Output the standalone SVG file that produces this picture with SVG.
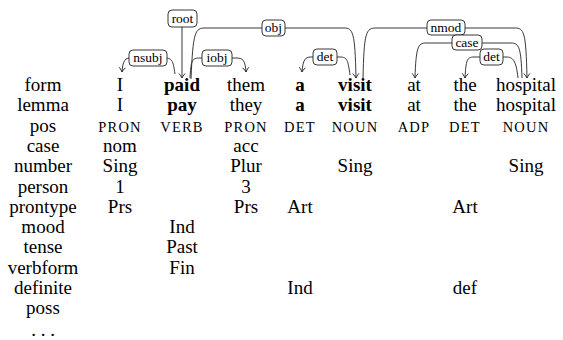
<svg xmlns="http://www.w3.org/2000/svg" width="563" height="340" viewBox="0 0 563 340">
<style>
text{font-family:"Liberation Serif","Times New Roman",serif;fill:#000}
.t{font-size:19px;text-anchor:middle}
.b{font-weight:bold}
.sc{font-size:14.5px;letter-spacing:1.2px;text-anchor:middle}
.lb{font-size:13.5px;text-anchor:middle}
.box{fill:#fff;stroke:#222;stroke-width:0.9}
.arc{fill:none;stroke:#222;stroke-width:0.9;marker-end:url(#ah)}
</style>
<defs>
<marker id="ah" viewBox="-6 -5 7 10" markerWidth="7" markerHeight="10" refX="0" refY="0" orient="auto" markerUnits="userSpaceOnUse">
<path d="M-4.5,-3 Q-1.5,-0.6 0,0 Q-1.5,0.6 -4.5,3" fill="none" stroke="#222" stroke-width="0.9"/>
</marker>
</defs>
<g id="connectors">
<path class="arc" d="M182,27 L182,78"/>
<path class="arc" d="M175,74 C173,60 172,58 164,58 L131,58 C125,58 123,60 122,72"/>
<path class="arc" d="M190,78 C191,60 192,58 200,58 L236,58 C243,58 245,60 246,72"/>
<path class="arc" d="M191,79 C193,32 195,28 205,28 L344,28 C353,28 355,32 356,78"/>
<path class="arc" d="M350,75 C348,60 347,57 340,57 L311,57 C305,57 303,60 302,72"/>
<path class="arc" d="M363,79 C364,32 366,28 376,28 L515,28 C524,28 526,32 527,78"/>
<path class="arc" d="M522,78 C521,47 519,43 511,43 L426,43 C418,43 416,47 415,78"/>
<path class="arc" d="M518,78 C516,60 513,57 506,57 L474,57 C467,57 466,60 465,78"/>
</g>
<g id="root"><rect class="box" x="168" y="10" width="29" height="17" rx="4"/><text class="lb" x="182.5" y="23">root</text></g>
<g id="nsubj"><rect class="box" x="129" y="50" width="38" height="16" rx="4"/><text class="lb" x="148" y="62">nsubj</text></g>
<g id="iobj"><rect class="box" x="202" y="50" width="30" height="16" rx="4"/><text class="lb" x="217" y="62">iobj</text></g>
<g id="obj"><rect class="box" x="262" y="20" width="23" height="16" rx="4"/><text class="lb" x="273.5" y="32">obj</text></g>
<g id="det1"><rect class="box" x="313" y="49" width="24" height="16" rx="4"/><text class="lb" x="325" y="61">det</text></g>
<g id="nmod"><rect class="box" x="427" y="20" width="38" height="15" rx="4"/><text class="lb" x="446" y="32">nmod</text></g>
<g id="case"><rect class="box" x="452" y="35" width="30" height="15" rx="4"/><text class="lb" x="467" y="47">case</text></g>
<g id="det2"><rect class="box" x="480" y="49" width="23" height="16" rx="4"/><text class="lb" x="491.5" y="61">det</text></g>
<g id="table">
<text class="t" x="43" y="91">form</text>
<text class="t" x="120" y="91">I</text>
<text class="t b" x="182" y="91">paid</text>
<text class="t" x="246" y="91">them</text>
<text class="t b" x="300" y="91">a</text>
<text class="t b" x="355" y="91">visit</text>
<text class="t" x="414" y="91">at</text>
<text class="t" x="465" y="91">the</text>
<text class="t" x="526" y="91">hospital</text>

<text class="t" x="43" y="111.3">lemma</text>
<text class="t" x="120" y="111.3">I</text>
<text class="t b" x="182" y="111.3">pay</text>
<text class="t" x="246" y="111.3">they</text>
<text class="t b" x="300" y="111.3">a</text>
<text class="t b" x="355" y="111.3">visit</text>
<text class="t" x="414" y="111.3">at</text>
<text class="t" x="465" y="111.3">the</text>
<text class="t" x="526" y="111.3">hospital</text>

<text class="t" x="43" y="131.6">pos</text>
<text class="sc" x="120" y="131.6">PRON</text>
<text class="sc" x="182" y="131.6">VERB</text>
<text class="sc" x="246" y="131.6">PRON</text>
<text class="sc" x="300" y="131.6">DET</text>
<text class="sc" x="355" y="131.6">NOUN</text>
<text class="sc" x="414" y="131.6">ADP</text>
<text class="sc" x="465" y="131.6">DET</text>
<text class="sc" x="526" y="131.6">NOUN</text>

<text class="t" x="43" y="151.9">case</text>
<text class="t" x="120" y="151.9">nom</text>
<text class="t" x="246" y="151.9">acc</text>

<text class="t" x="43" y="172.2">number</text>
<text class="t" x="120" y="172.2">Sing</text>
<text class="t" x="246" y="172.2">Plur</text>
<text class="t" x="355" y="172.2">Sing</text>
<text class="t" x="526" y="172.2">Sing</text>

<text class="t" x="43" y="192.5">person</text>
<text class="t" x="120" y="192.5">1</text>
<text class="t" x="246" y="192.5">3</text>

<text class="t" x="43" y="212.8">prontype</text>
<text class="t" x="120" y="212.8">Prs</text>
<text class="t" x="246" y="212.8">Prs</text>
<text class="t" x="300" y="212.8">Art</text>
<text class="t" x="465" y="212.8">Art</text>

<text class="t" x="43" y="233.1">mood</text>
<text class="t" x="182" y="233.1">Ind</text>

<text class="t" x="43" y="253.4">tense</text>
<text class="t" x="182" y="253.4">Past</text>

<text class="t" x="43" y="273.7">verbform</text>
<text class="t" x="182" y="273.7">Fin</text>

<text class="t" x="43" y="294">definite</text>
<text class="t" x="300" y="294">Ind</text>
<text class="t" x="465" y="294">def</text>

<text class="t" x="43" y="314.3">poss</text>
<text class="t" x="43" y="336">. . .</text>
</g>
</svg>
